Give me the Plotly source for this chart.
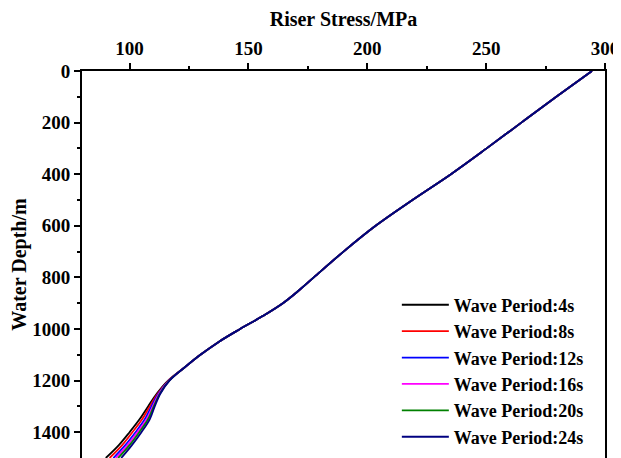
#!/usr/bin/env python

import plotly.graph_objects as go

# depth points (m) shared by all curves
depth = [0, 100, 200, 300, 400, 500, 600, 700, 800, 850, 900, 950, 1000,
         1050, 1100, 1150, 1200, 1250, 1300, 1350, 1400, 1450, 1500]

# the upper part of the riser is the same for every wave period
upper_stress = [294.5, 279.5, 264.8, 250.2, 235.2, 219.0, 203.5, 190.0,
                177.5, 171.3, 164.5, 156.0, 146.5, 137.5, 129.8, 123.0]

# lower part (1200 m .. 1500 m) separates by wave period
lower_4s = [116.2, 111.5, 107.8, 104.2, 100.0, 95.5, 90.0]
lower_8s = [116.4, 111.9, 108.5, 105.3, 101.2, 96.9, 91.6]
lower_12s = [116.5, 112.2, 109.2, 106.4, 102.5, 98.2, 93.2]
lower_16s = [116.6, 112.5, 109.8, 107.2, 103.3, 99.1, 94.2]
lower_20s = [116.7, 112.8, 110.2, 107.8, 104.1, 100.0, 95.2]
lower_24s = [116.8, 113.0, 110.6, 108.5, 105.0, 101.0, 96.5]

names = ['Wave Period:4s', 'Wave Period:8s', 'Wave Period:12s',
         'Wave Period:16s', 'Wave Period:20s', 'Wave Period:24s']
lowers = [lower_4s, lower_8s, lower_12s, lower_16s, lower_20s, lower_24s]
colors = ['#000000', '#ff0000', '#0000ff', '#ff00ff', '#008000', '#000080']

FONT = 'Liberation Serif, Times New Roman, serif'

fig = go.Figure()
for name, low, col in zip(names, lowers, colors):
    fig.add_trace(go.Scatter(
        x=upper_stress + low, y=depth, name=name, mode='lines',
        line=dict(color=col, width=1.8, shape='spline', smoothing=1.0)
    ))

axis_common = dict(
    showline=True, linecolor='black', linewidth=2, mirror=True,
    ticks='outside', ticklen=6, tickwidth=1.5, tickcolor='black',
    showgrid=False, zeroline=False, automargin=False,
    tickfont=dict(family=FONT, size=19, color='black', weight='bold'),
)

fig.update_xaxes(
    side='top', range=[80, 300], tickvals=[100, 150, 200, 250, 300],
    minor=dict(tickvals=[125, 175, 225, 275], ticklen=3, ticks='outside',
               tickcolor='black', tickwidth=1.5),
    title=dict(text='Riser Stress/MPa', standoff=8,
               font=dict(family=FONT, size=20, color='black', weight='bold')),
    **axis_common
)
fig.update_yaxes(
    range=[1500, 0], tickvals=[0, 200, 400, 600, 800, 1000, 1200, 1400],
    minor=dict(tickvals=[100, 300, 500, 700, 900, 1100, 1300], ticklen=3,
               ticks='outside', tickcolor='black', tickwidth=1.5),
    title=dict(text='Water Depth/m', standoff=8,
               font=dict(family=FONT, size=20, color='black', weight='bold')),
    **axis_common
)

# page body has an 8px margin, so the figure is a bit smaller than the window
fig.update_layout(
    width=613, height=450,
    margin=dict(l=74, r=16, t=63, b=0),
    paper_bgcolor='white', plot_bgcolor='white',
    legend=dict(x=0.602, y=0.443, xanchor='left', yanchor='top',
                bgcolor='rgba(255,255,255,0)', itemwidth=47,
                font=dict(family=FONT, size=18, color='black', weight='bold')),
)

fig.write_html("out.html")
